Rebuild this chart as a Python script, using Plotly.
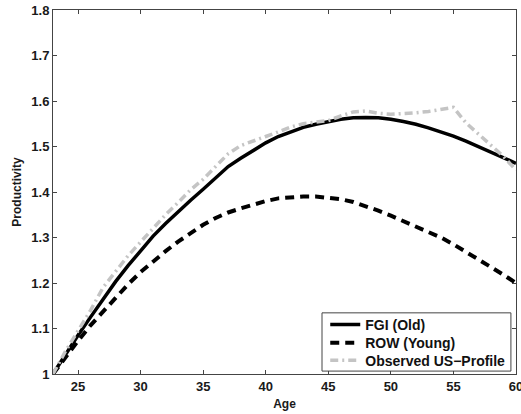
import plotly.graph_objects as go

ages = list(range(23, 61))

fgi_old = [1.000, 1.043, 1.085, 1.125, 1.165, 1.203, 1.238, 1.272, 1.303, 1.331,
           1.357, 1.382, 1.406, 1.432, 1.456, 1.474, 1.491, 1.508, 1.522, 1.533,
           1.542, 1.549, 1.555, 1.560, 1.563, 1.564, 1.563, 1.560, 1.555, 1.549,
           1.541, 1.533, 1.523, 1.512, 1.500, 1.488, 1.476, 1.463]

row_young = [1.000, 1.038, 1.073, 1.107, 1.138, 1.168, 1.197, 1.224, 1.248, 1.270,
             1.291, 1.310, 1.328, 1.343, 1.355, 1.364, 1.373, 1.380, 1.386, 1.389,
             1.390, 1.390, 1.388, 1.384, 1.378, 1.369, 1.359, 1.348, 1.336, 1.323,
             1.310, 1.300, 1.285, 1.269, 1.252, 1.235, 1.218, 1.200]

observed_us = [1.000, 1.050, 1.095, 1.140, 1.190, 1.225, 1.260, 1.290, 1.320, 1.350,
               1.377, 1.405, 1.428, 1.455, 1.484, 1.502, 1.513, 1.522, 1.532, 1.543,
               1.550, 1.554, 1.557, 1.567, 1.576, 1.578, 1.573, 1.571, 1.572, 1.574,
               1.577, 1.582, 1.586, 1.552, 1.527, 1.501, 1.478, 1.448]

x_ticks = [25, 30, 35, 40, 45, 50, 55, 60]
y_ticks = [1, 1.1, 1.2, 1.3, 1.4, 1.5, 1.6, 1.7, 1.8]
y_tick_labels = ["1", "1.1", "1.2", "1.3", "1.4", "1.5", "1.6", "1.7", "1.8"]

fig = go.Figure()
fig.add_trace(go.Scatter(x=ages, y=fgi_old, mode="lines", name="FGI (Old)",
                         legend="legend",
                         line=dict(color="black", width=3.5, dash="solid")))
fig.add_trace(go.Scatter(x=ages, y=row_young, mode="lines", name="ROW (Young)",
                         legend="legend2",
                         line=dict(color="black", width=4, dash="9px,6px")))
fig.add_trace(go.Scatter(x=ages, y=observed_us, mode="lines", name="Observed US\u2212Profile",
                         legend="legend3",
                         line=dict(color="#c4c4c4", width=3.5, dash="8px,4px,2px,4px")))

fam = "Liberation Sans, Arial, sans-serif"
tick_font = dict(family=fam, size=13, color="#1a1a1a", weight="bold")
title_font = dict(family=fam, size=12, color="#1a1a1a", weight="bold")
legend_font = dict(family=fam, size=14, color="#111", weight="bold")


def leg(yc):
    return dict(x=0.588, y=yc, xanchor="left", yanchor="middle",
                bgcolor="rgba(0,0,0,0)", borderwidth=0, font=legend_font,
                itemwidth=30, tracegroupgap=0)


fig.update_layout(
    width=521, height=414,
    margin=dict(l=53, r=5, t=10, b=40, autoexpand=False),
    paper_bgcolor="white", plot_bgcolor="white",
    font=tick_font,
    showlegend=True,
    legend=leg(0.135),
    legend2=leg(0.085),
    legend3=leg(0.037),
    shapes=[dict(type="rect", xref="x domain", yref="y domain",
                 x0=0.581, x1=0.989, y0=0.008, y1=0.168,
                 fillcolor="white", line=dict(color="#444", width=1),
                 layer="above")],
)
fig.update_xaxes(range=[23, 60], tickvals=x_ticks, ticks="inside", ticklen=4,
                 tickcolor="#444", showline=True, linecolor="#444", linewidth=1,
                 mirror="ticks", showgrid=False, zeroline=False, automargin=False,
                 tickfont=tick_font, ticklabeloverflow="allow",
                 title=dict(text="Age", standoff=7, font=title_font))
fig.update_yaxes(range=[1, 1.8], tickvals=y_ticks, ticktext=y_tick_labels,
                 ticks="inside", ticklen=4, tickcolor="#444", showline=True,
                 linecolor="#444", linewidth=1, mirror="ticks", showgrid=False,
                 zeroline=False, automargin=False, tickfont=tick_font,
                 ticklabeloverflow="allow",
                 title=dict(text="Productivity", standoff=7, font=title_font))

fig.write_html("out.html", config={"displayModeBar": False},
               post_script="document.body.style.margin='0';")
